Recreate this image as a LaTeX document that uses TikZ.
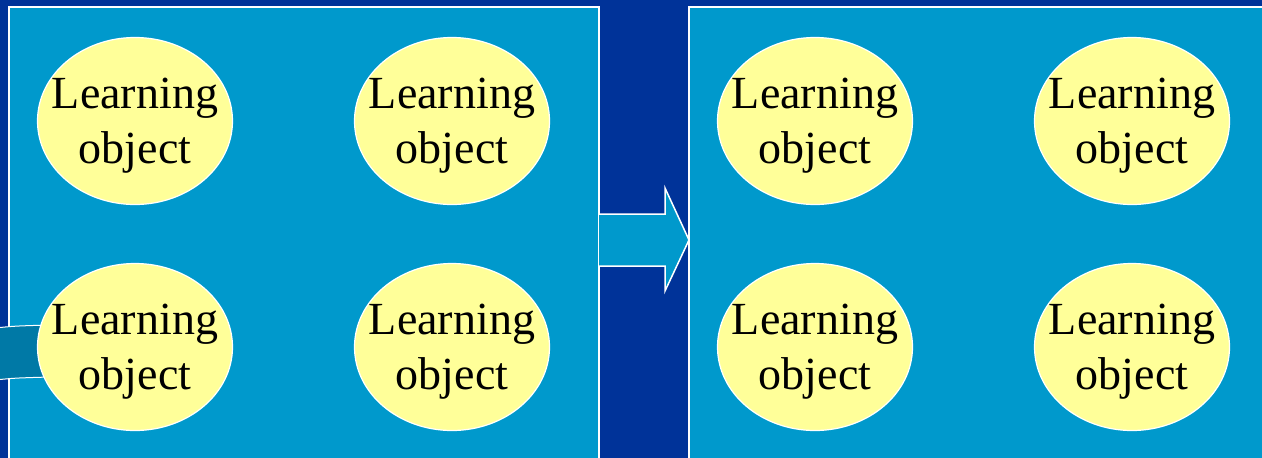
\documentclass[tikz,border=0pt]{standalone}
\usepackage{fontspec}
\setmainfont{Liberation Serif}
\usetikzlibrary{shapes.geometric}
\definecolor{bgblue}{HTML}{003399}
\definecolor{panel}{HTML}{0099CC}
\definecolor{lo}{HTML}{FFFF99}
\definecolor{band}{HTML}{0079A6}
\begin{document}
\begin{tikzpicture}[x=1pt,y=-1pt,
  panelbox/.style={fill=panel,draw=white,line width=1.5pt},
  lobj/.style={ellipse,fill=lo,draw=white,line width=1.2pt,minimum width=195pt,minimum height=167pt,inner sep=0pt},
  lotext/.style={inner sep=0pt,align=center,font=\fontsize{46}{55}\selectfont,text=black}]
\fill[bgblue] (0,0) rectangle (1262,458);
\useasboundingbox (0,0) rectangle (1262,458);
\draw[panelbox] (9,7) rectangle (599,470);
\draw[panelbox] (689,7) rectangle (1280,470);
% arrow
\draw[fill=panel,draw=white,line width=1.5pt] (599,214) -- (665,214) -- (665,188) -- (689,240) -- (665,291) -- (665,266) -- (599,266);
% curved band
\draw[fill=band,draw=white,line width=1pt] (-5,328) .. controls (15,326) .. (50,325) -- (50,377) .. controls (15,378) .. (-5,380) -- cycle;
\foreach \n/\x/\y in {a/135/121,b/452/121,c/135/347,d/452/347,e/815/121,f/1132/121,g/815/347,h/1132/347}{
  \node[lobj] (\n) at (\x,\y) {};
  \node[lotext] (\n t) at ([yshift=-5pt]\n.center) {Learning\\object};
}
\end{tikzpicture}
\end{document}
